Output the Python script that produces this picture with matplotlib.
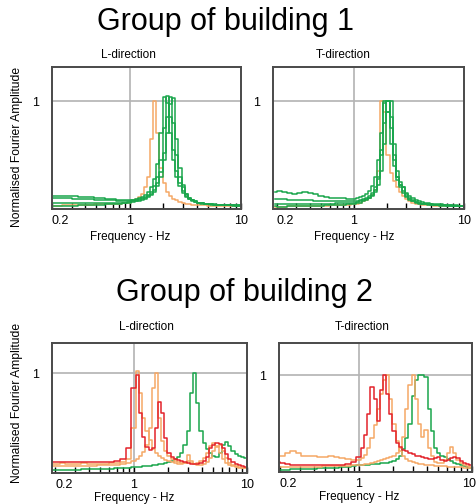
import matplotlib
matplotlib.use("Agg")
import matplotlib.pyplot as plt
from matplotlib.transforms import ScaledTranslation

plt.rcParams['font.family'] = ['Liberation Sans', 'DejaVu Sans']

# ---------------- data ----------------
freq = [0.19, 0.21, 0.23, 0.26, 0.29, 0.32, 0.36, 0.40, 0.45, 0.50, 0.56, 0.63, 0.71,
        0.80, 0.90, 1.00, 1.07, 1.14, 1.22, 1.30, 1.39, 1.48, 1.58, 1.68, 1.79, 1.91,
        2.04, 2.18, 2.32, 2.48, 2.65, 2.83, 3.02, 3.22, 3.44, 3.67, 3.92, 4.18, 4.46,
        4.76, 5.08, 5.42, 5.79, 6.18, 6.60, 7.04, 7.52, 8.03, 8.57, 9.15, 9.77, 10.0]

# Group 1, L-direction
g1L_orange = [0.03, 0.03, 0.03, 0.035, 0.035, 0.035, 0.04, 0.04, 0.04, 0.045, 0.045, 0.05, 0.05,
              0.05, 0.055, 0.06, 0.07, 0.09, 0.11, 0.14, 0.2, 0.3, 0.65, 1.0, 0.7, 0.38,
              0.24, 0.16, 0.12, 0.095, 0.08, 0.065, 0.055, 0.05, 0.045, 0.04, 0.04, 0.035, 0.035,
              0.035, 0.03, 0.03, 0.03, 0.03, 0.03, 0.03, 0.03, 0.03, 0.03, 0.03, 0.03, 0.03]
g1L_green_a = [0.12, 0.125, 0.12, 0.12, 0.125, 0.12, 0.115, 0.11, 0.11, 0.105, 0.1, 0.095, 0.09,
               0.085, 0.08, 0.08, 0.085, 0.09, 0.1, 0.11, 0.13, 0.16, 0.2, 0.28, 0.42, 0.7,
               1.04, 0.98, 0.7, 0.45, 0.3, 0.21, 0.15, 0.11, 0.09, 0.075, 0.065, 0.06, 0.055,
               0.05, 0.045, 0.045, 0.04, 0.04, 0.04, 0.04, 0.035, 0.035, 0.035, 0.035, 0.035, 0.035]
g1L_green_b = [0.10, 0.1, 0.105, 0.1, 0.1, 0.095, 0.095, 0.09, 0.09, 0.085, 0.085, 0.08, 0.08,
               0.075, 0.075, 0.075, 0.08, 0.085, 0.09, 0.1, 0.11, 0.13, 0.16, 0.21, 0.3, 0.45,
               0.75, 1.05, 0.85, 0.55, 0.35, 0.24, 0.17, 0.12, 0.095, 0.08, 0.07, 0.06, 0.055,
               0.05, 0.05, 0.045, 0.045, 0.04, 0.04, 0.04, 0.04, 0.035, 0.035, 0.035, 0.035, 0.035]
g1L_green_c = [0.06, 0.06, 0.055, 0.055, 0.055, 0.055, 0.055, 0.055, 0.055, 0.055, 0.055, 0.055, 0.055,
               0.06, 0.06, 0.065, 0.07, 0.075, 0.08, 0.09, 0.1, 0.12, 0.14, 0.18, 0.24, 0.34,
               0.52, 0.85, 1.04, 0.8, 0.5, 0.3, 0.2, 0.14, 0.1, 0.08, 0.07, 0.06, 0.055,
               0.05, 0.045, 0.045, 0.04, 0.04, 0.04, 0.04, 0.035, 0.035, 0.035, 0.03, 0.03, 0.03]
g1L_green_d = [0.03, 0.025, 0.025, 0.03, 0.03, 0.03, 0.035, 0.035, 0.035, 0.04, 0.04, 0.045, 0.045,
               0.05, 0.055, 0.06, 0.065, 0.07, 0.075, 0.085, 0.095, 0.11, 0.13, 0.16, 0.21, 0.3,
               0.45, 0.7, 0.97, 1.03, 0.65, 0.38, 0.22, 0.14, 0.1, 0.08, 0.065, 0.055, 0.05,
               0.045, 0.045, 0.04, 0.04, 0.04, 0.035, 0.035, 0.035, 0.035, 0.03, 0.03, 0.03, 0.03]

# Group 1, T-direction
g1T_orange = [0.02, 0.02, 0.02, 0.025, 0.025, 0.025, 0.025, 0.03, 0.03, 0.03, 0.03, 0.035, 0.035,
              0.04, 0.04, 0.045, 0.05, 0.06, 0.07, 0.08, 0.1, 0.13, 0.18, 0.35, 1.0, 0.9,
              0.5, 0.33, 0.26, 0.2, 0.16, 0.12, 0.09, 0.07, 0.06, 0.05, 0.045, 0.04, 0.04,
              0.035, 0.035, 0.03, 0.03, 0.03, 0.03, 0.025, 0.025, 0.025, 0.025, 0.025, 0.025, 0.025]
g1T_green_a = [0.16, 0.17, 0.16, 0.15, 0.14, 0.15, 0.155, 0.15, 0.14, 0.12, 0.11, 0.105, 0.1,
               0.1, 0.095, 0.09, 0.1, 0.11, 0.12, 0.14, 0.17, 0.21, 0.3, 0.45, 0.7, 1.0,
               0.9, 0.6, 0.4, 0.27, 0.22, 0.2, 0.15, 0.12, 0.1, 0.085, 0.075, 0.065, 0.06,
               0.055, 0.05, 0.05, 0.045, 0.045, 0.04, 0.04, 0.035, 0.035, 0.035, 0.03, 0.03, 0.03]
g1T_green_b = [0.09, 0.095, 0.09, 0.085, 0.085, 0.08, 0.08, 0.08, 0.075, 0.075, 0.07, 0.07, 0.07,
               0.07, 0.07, 0.07, 0.075, 0.08, 0.09, 0.1, 0.12, 0.15, 0.2, 0.3, 0.5, 0.8,
               1.0, 0.75, 0.45, 0.3, 0.22, 0.17, 0.12, 0.09, 0.075, 0.065, 0.055, 0.05, 0.05,
               0.045, 0.045, 0.04, 0.04, 0.04, 0.035, 0.035, 0.035, 0.03, 0.03, 0.03, 0.03, 0.03]
g1T_green_c = [0.05, 0.05, 0.045, 0.045, 0.045, 0.045, 0.045, 0.045, 0.05, 0.05, 0.05, 0.05, 0.055,
               0.055, 0.06, 0.06, 0.065, 0.07, 0.08, 0.09, 0.1, 0.12, 0.16, 0.22, 0.35, 0.6,
               0.9, 1.0, 0.6, 0.35, 0.25, 0.2, 0.14, 0.1, 0.08, 0.065, 0.055, 0.05, 0.045,
               0.045, 0.04, 0.04, 0.035, 0.035, 0.035, 0.03, 0.03, 0.03, 0.025, 0.025, 0.025, 0.025]
g1T_green_d = [0.025, 0.02, 0.02, 0.025, 0.025, 0.025, 0.03, 0.03, 0.03, 0.03, 0.035, 0.035, 0.04,
               0.04, 0.045, 0.05, 0.055, 0.06, 0.07, 0.08, 0.1, 0.13, 0.18, 0.28, 0.55, 0.98,
               1.0, 0.85, 0.5, 0.3, 0.2, 0.15, 0.11, 0.085, 0.07, 0.06, 0.05, 0.045, 0.045,
               0.04, 0.04, 0.035, 0.035, 0.03, 0.03, 0.03, 0.025, 0.025, 0.025, 0.025, 0.025, 0.025]

# Group 2, L-direction
g2L_red = [0.11, 0.11, 0.11, 0.11, 0.11, 0.115, 0.11, 0.11, 0.11, 0.11, 0.115, 0.115, 0.12,
           0.14, 0.25, 0.85, 0.98, 0.6, 0.36, 0.26, 0.23, 0.25, 0.45, 0.71, 0.6, 0.35,
           0.2, 0.16, 0.14, 0.13, 0.12, 0.11, 0.1, 0.09, 0.09, 0.09, 0.1, 0.12, 0.16,
           0.25, 0.28, 0.3, 0.29, 0.25, 0.19, 0.14, 0.11, 0.09, 0.08, 0.07, 0.065, 0.06]
g2L_orange_a = [0.09, 0.09, 0.1, 0.095, 0.09, 0.09, 0.1, 0.095, 0.09, 0.09, 0.095, 0.1, 0.1,
                0.11, 0.14, 0.45, 1.02, 0.8, 0.55, 0.42, 0.33, 0.24, 0.2, 0.17, 0.15, 0.13,
                0.12, 0.11, 0.1, 0.09, 0.09, 0.1, 0.18, 0.12, 0.09, 0.08, 0.08, 0.09, 0.11,
                0.15, 0.22, 0.26, 0.28, 0.22, 0.15, 0.1, 0.08, 0.07, 0.06, 0.055, 0.05, 0.05]
g2L_orange_b = [0.07, 0.07, 0.07, 0.075, 0.075, 0.07, 0.07, 0.075, 0.075, 0.08, 0.08, 0.08, 0.085,
                0.09, 0.1, 0.12, 0.14, 0.17, 0.21, 0.28, 0.45, 0.85, 1.0, 0.55, 0.32, 0.22,
                0.17, 0.14, 0.12, 0.11, 0.1, 0.1, 0.12, 0.1, 0.09, 0.1, 0.12, 0.15, 0.2,
                0.27, 0.3, 0.27, 0.2, 0.14, 0.1, 0.08, 0.07, 0.06, 0.055, 0.05, 0.05, 0.05]
g2L_green = [0.035, 0.035, 0.035, 0.035, 0.035, 0.035, 0.04, 0.04, 0.04, 0.04, 0.045, 0.045, 0.05,
             0.05, 0.055, 0.06, 0.06, 0.065, 0.07, 0.07, 0.075, 0.08, 0.085, 0.09, 0.095, 0.1,
             0.11, 0.12, 0.14, 0.16, 0.2, 0.28, 0.42, 0.8, 1.0, 0.7, 0.42, 0.3, 0.24,
             0.2, 0.17, 0.16, 0.2, 0.28, 0.31, 0.27, 0.22, 0.19, 0.17, 0.16, 0.15, 0.15]

# Group 2, T-direction
g2T_red = [0.1, 0.09, 0.08, 0.075, 0.07, 0.07, 0.07, 0.07, 0.07, 0.07, 0.07, 0.07, 0.075,
           0.08, 0.1, 0.155, 0.25, 0.38, 0.6, 0.88, 0.75, 0.53, 0.85, 1.0, 0.8, 0.6,
           0.42, 0.3, 0.26, 0.23, 0.22, 0.2, 0.19, 0.17, 0.16, 0.155, 0.14, 0.13, 0.13,
           0.14, 0.15, 0.12, 0.11, 0.12, 0.14, 0.155, 0.14, 0.11, 0.09, 0.08, 0.07, 0.07]
g2T_orange_a = [0.17, 0.17, 0.2, 0.22, 0.2, 0.17, 0.16, 0.16, 0.15, 0.15, 0.16, 0.15, 0.14,
                0.13, 0.12, 0.12, 0.14, 0.18, 0.25, 0.35, 0.48, 0.65, 0.8, 0.95, 1.0, 0.75,
                0.5, 0.32, 0.22, 0.16, 0.13, 0.11, 0.1, 0.09, 0.08, 0.08, 0.075, 0.07, 0.07,
                0.065, 0.065, 0.06, 0.06, 0.055, 0.055, 0.05, 0.05, 0.05, 0.045, 0.045, 0.045, 0.045]
g2T_orange_b = [0.05, 0.05, 0.05, 0.05, 0.05, 0.05, 0.055, 0.055, 0.055, 0.06, 0.06, 0.06, 0.065,
                0.065, 0.07, 0.07, 0.075, 0.08, 0.085, 0.09, 0.1, 0.11, 0.12, 0.13, 0.14, 0.15,
                0.17, 0.2, 0.25, 0.36, 0.65, 0.9, 1.0, 0.75, 0.5, 0.36, 0.43, 0.25, 0.16,
                0.1, 0.09, 0.09, 0.12, 0.2, 0.26, 0.2, 0.12, 0.09, 0.07, 0.06, 0.05, 0.05]
g2T_green = [0.025, 0.025, 0.025, 0.03, 0.03, 0.03, 0.035, 0.035, 0.04, 0.04, 0.045, 0.045, 0.05,
             0.05, 0.06, 0.07, 0.07, 0.075, 0.075, 0.08, 0.08, 0.085, 0.09, 0.09, 0.095, 0.1,
             0.11, 0.13, 0.17, 0.24, 0.35, 0.5, 0.78, 0.95, 1.0, 1.0, 0.98, 0.65, 0.42,
             0.25, 0.2, 0.17, 0.155, 0.13, 0.11, 0.09, 0.08, 0.07, 0.06, 0.05, 0.045, 0.04]

x_ticks = [0.2, 1, 10]
x_ticklabels = ['0.2', '1', '10']

GREEN = '#1aa64c'
ORANGE = '#f5a866'
RED = '#e3232b'

panels = [
    # (pixel box l,t,r,b), xlim, ylim, series list, direction title, title px position
    ((52, 67, 241, 209), (0.205, 10), (0, 1.315),
     [(g1L_orange, ORANGE), (g1L_green_a, GREEN), (g1L_green_b, GREEN),
      (g1L_green_c, GREEN), (g1L_green_d, GREEN)], 'L-direction', (128, 55)),
    ((273, 67, 464, 209), (0.184, 10), (0, 1.315),
     [(g1T_orange, ORANGE), (g1T_green_a, GREEN), (g1T_green_b, GREEN),
      (g1T_green_c, GREEN), (g1T_green_d, GREEN)], 'T-direction', (343, 55)),
    ((52, 343, 247, 473), (0.188, 10), (0, 1.30),
     [(g2L_green, GREEN), (g2L_orange_a, ORANGE), (g2L_orange_b, ORANGE),
      (g2L_red, RED)], 'L-direction', (146, 327)),
    ((279, 343, 472, 472), (0.196, 10), (0, 1.33),
     [(g2T_green, GREEN), (g2T_orange_a, ORANGE), (g2T_orange_b, ORANGE),
      (g2T_red, RED)], 'T-direction', (362, 327)),
]

W, H = 477, 504
fig = plt.figure(figsize=(W / 100, H / 100), dpi=100)

for i, ((l, t, r, b), xl, yl, series, dtitle, tpos) in enumerate(panels):
    ax = fig.add_axes([l / W, (H - b) / H, (r - l) / W, (b - t) / H])
    ax.set_xscale('log')
    ax.set_xlim(*xl)
    ax.set_ylim(*yl)
    ax.axvline(1, color='#b3b3b3', lw=1.2, zorder=1)
    ax.axhline(1, color='#b3b3b3', lw=1.2, zorder=1)
    for vals, col in series:
        ax.plot(freq, vals, color=col, lw=1.1, drawstyle='steps-mid', zorder=3)
    for sp in ax.spines.values():
        sp.set_color('#4a4a4a')
        sp.set_linewidth(1.4)
        sp.set_zorder(5)
    ax.set_xticks(x_ticks)
    ax.set_xticklabels(x_ticklabels)
    ax.xaxis.set_minor_locator(matplotlib.ticker.LogLocator(base=10, subs=[2, 3, 4, 5, 6, 7, 8, 9]))
    ax.xaxis.set_minor_formatter(matplotlib.ticker.NullFormatter())
    ax.tick_params(axis='x', which='both', direction='in', length=4, width=1,
                   color='black', labelsize=9, pad=4)
    labels = ax.get_xticklabels()
    labels[0].set_ha('left')
    if i == 3:
        labels[-1].set_ha('right')
        labels[-1].set_transform(labels[-1].get_transform() +
                                 ScaledTranslation(4 / 100, 0, fig.dpi_scale_trans))
    ax.set_yticks([1])
    ax.set_yticklabels(['1'])
    ax.tick_params(axis='y', length=0, pad=9, labelsize=9)
    ax.annotate('Frequency - Hz', xy=(1, 0), xycoords=('data', 'axes fraction'),
                xytext=(0, -20 if b < 300 else -18), textcoords='offset points',
                ha='center', va='center', fontsize=8.5)
    fig.text(tpos[0] / W, 1 - tpos[1] / H, dtitle, ha='center', va='center', fontsize=8.5)

fig.text(226 / W, 1 - 22 / H, 'Group of building 1', ha='center', va='center', fontsize=22)
fig.text(244 / W, 1 - 293 / H, 'Group of building 2', ha='center', va='center', fontsize=22)
fig.text(17 / W, 1 - 147 / H, 'Normalised Fourier Amplitude', rotation=90,
         ha='center', va='center', fontsize=8.7)
fig.text(17 / W, 1 - 403 / H, 'Normalised Fourier Amplitude', rotation=90,
         ha='center', va='center', fontsize=8.7)

fig.savefig('out.png', dpi=100)
